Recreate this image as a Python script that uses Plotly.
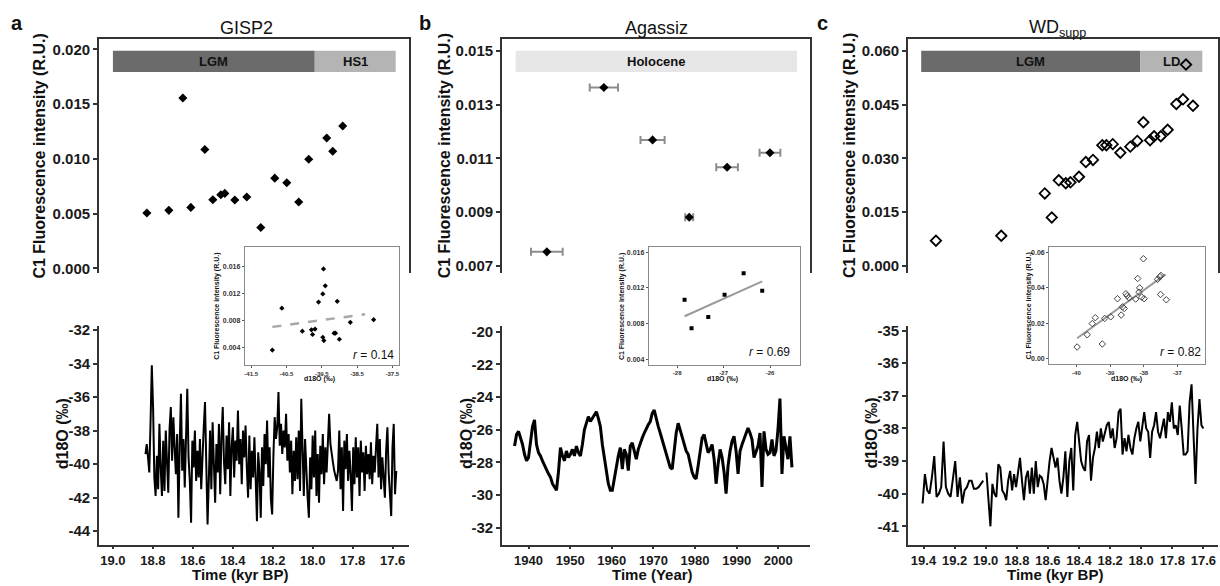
import numpy as np
import plotly.graph_objects as go

W, H = 1220, 586
FONT = "Liberation Sans, Arial, sans-serif"
AX = "#333333"

# ---------------- panel a : GISP2 ----------------
gisp2_time = [18.83, 18.72, 18.65, 18.61, 18.54, 18.50, 18.46, 18.44, 18.39,
              18.33, 18.26, 18.19, 18.13, 18.07, 18.02, 17.93, 17.90, 17.85]
gisp2_c1 = [0.00506, 0.0053, 0.01555, 0.00557, 0.01085, 0.00627, 0.00673, 0.00685, 0.00624,
            0.00652, 0.00373, 0.00824, 0.00782, 0.00606, 0.00997, 0.0119, 0.0107, 0.0130]

gisp2_d18o = [
    -39.4, -38.8, -39.6, -40.5, -37.5, -34.1, -36.6, -40.8, -41.9, -39.5,
    -41.5, -37.6, -40.2, -41.9, -38.6, -41.6, -38.0, -40.5, -41.7, -37.9,
    -36.6, -39.8, -37.2, -39.0, -40.6, -38.2, -43.2, -39.0, -35.8, -40.4,
    -38.5, -41.4, -37.8, -35.5, -39.6, -41.0, -43.5, -38.6, -40.2, -38.0,
    -41.0, -39.2, -40.8, -38.5, -41.5, -39.0, -37.8, -36.3, -40.2, -43.6,
    -41.0, -38.0, -41.5, -37.5, -40.0, -42.3, -38.8, -40.5, -37.6, -41.8,
    -38.4, -36.6, -39.9, -41.2, -38.3, -40.3, -37.5, -41.9, -39.0, -37.8,
    -40.8, -38.6, -39.8, -36.8, -40.0, -38.5, -41.2, -38.0, -39.6, -37.7,
    -40.2, -42.0, -38.3, -41.5, -39.2, -40.8, -38.4, -41.0, -43.4, -39.3,
    -40.5, -43.2, -39.0, -41.3, -38.2, -40.0, -37.4, -40.8, -39.0, -42.1,
    -43.0, -39.5, -37.2, -38.5, -37.8, -35.7, -38.9, -37.6, -39.4, -38.0,
    -39.0, -37.0, -39.8, -38.2, -40.5, -38.6, -41.8, -39.2, -41.0, -38.4,
    -40.9, -38.0, -41.6, -36.1, -39.8, -41.9, -38.5, -40.6, -42.0, -43.2,
    -39.6, -41.5, -38.3, -40.8, -38.0, -41.9, -39.4, -42.3, -38.9, -40.6,
    -38.2, -41.2, -39.0, -40.5, -38.5, -37.0, -38.8, -39.5, -39.9, -40.4,
    -40.8, -41.0, -40.4, -38.0, -41.5, -39.0, -42.8, -38.6, -40.3, -38.2,
    -41.0, -39.2, -40.6, -42.8, -39.0, -41.2, -38.4, -40.8, -39.0, -41.9,
    -38.6, -40.5, -39.3, -41.6, -38.9, -40.6, -39.4, -40.9, -38.7, -41.2,
    -39.5, -40.5, -39.0, -37.6, -40.8, -38.5, -41.5, -39.6, -40.8, -42.0,
    -39.2, -37.8, -40.5, -42.2, -43.1, -39.0, -37.6, -41.8, -40.4]
gisp2_rec_start, gisp2_rec_end = 18.837, 17.582

inset_a_d18o = [-40.90, -40.63, -40.05, -39.79, -39.76, -39.69, -39.59, -39.47, -39.47,
                -39.45, -39.44, -39.40, -39.15, -39.11, -39.06, -39.00, -38.69, -38.03]
inset_a_c1 = [0.0036, 0.0098, 0.0064, 0.0066, 0.0059, 0.0067, 0.0107, 0.0055, 0.0119,
              0.0156, 0.0050, 0.0131, 0.0061, 0.0061, 0.0108, 0.0052, 0.0077, 0.0081]
fit_a_x = [-40.90, -38.27]
fit_a_y = [0.00703, 0.0089]

a_phase_names = ["LGM", "HS1"]
a_phase_start = [19.0, 17.99]
a_phase_end = [17.99, 17.585]

# ---------------- panel b : Agassiz ----------------
agassiz_year = [1944.4, 1958.1, 1969.8, 1978.6, 1987.7, 1998.0]
agassiz_c1 = [0.00752, 0.01364, 0.01169, 0.00881, 0.01067, 0.01121]
agassiz_year_err = [3.8, 3.4, 2.9, 0.95, 2.6, 2.5]

agassiz_d18o = [
    -27.0, -26.3, -26.1, -26.5, -26.9, -27.5, -27.9, -27.7, -26.8, -25.8,
    -25.4, -26.9, -27.4, -27.6, -27.9, -28.2, -28.4, -28.7, -28.9, -29.3,
    -29.5, -29.7, -28.6, -27.1, -27.6, -27.9, -27.3, -27.7, -27.5, -27.2,
    -27.6, -27.0, -27.4, -27.6, -26.9, -26.0, -25.6, -25.2, -25.5, -25.3,
    -25.1, -24.9, -25.3, -25.8, -26.9, -27.8, -28.6, -29.3, -29.7, -29.7,
    -29.0, -28.2, -27.6, -27.1, -28.4, -27.2, -27.5, -28.5, -27.0, -26.8,
    -27.4, -27.8, -27.2, -26.8, -26.5, -26.2, -25.9, -25.7, -25.5, -25.0,
    -24.8, -25.4, -25.8, -26.2, -26.6, -27.0, -27.4, -27.9, -28.3, -28.4,
    -27.4, -26.2, -25.6, -26.0, -26.5, -26.8, -27.3, -27.5, -28.0, -28.6,
    -28.9, -29.0, -28.2, -27.3, -26.5, -26.3, -26.9, -27.4, -27.2, -26.9,
    -27.8, -29.3, -28.1, -27.2, -27.7, -28.6, -29.9, -28.2, -27.3, -26.7,
    -26.4, -27.3, -28.7, -27.3, -26.9, -26.6, -26.2, -25.9, -26.2, -26.6,
    -27.7, -27.3, -27.0, -26.2, -29.5, -26.1, -27.2, -27.5, -27.4, -26.6,
    -27.6, -27.3, -26.0, -24.1, -28.7, -26.4, -27.2, -27.8, -26.4, -28.3]
agassiz_rec_start, agassiz_rec_end = 1936.64, 2003.28

inset_b_d18o = [-27.84, -27.69, -27.33, -26.98, -26.57, -26.17]
inset_b_c1 = [0.01068, 0.00748, 0.00876, 0.01123, 0.01365, 0.01167]
fit_b_x = [-27.84, -26.17]
fit_b_y = [0.00883, 0.01273]

b_phase_names = ["Holocene"]
b_phase_start = [1936.9]
b_phase_end = [2004.5]

# ---------------- panel c : WD supp ----------------
wd_time = [19.32, 18.90, 18.62, 18.575, 18.53, 18.485, 18.455, 18.40, 18.356, 18.31,
           18.25, 18.224, 18.183, 18.134, 18.07, 18.025, 17.986, 17.943, 17.917, 17.874,
           17.83, 17.774, 17.731, 17.712, 17.667]
wd_c1 = [0.00706, 0.00843, 0.02025, 0.01354, 0.0239, 0.0231, 0.02335, 0.0249, 0.0290, 0.0296,
         0.0337, 0.0337, 0.0340, 0.0316, 0.0333, 0.0349, 0.0401, 0.0351, 0.0362, 0.0362,
         0.0380, 0.0452, 0.0465, 0.0562, 0.0447]

wd_d18o_early = [
    -40.3, -39.4, -39.9, -40.0, -39.5, -38.85, -40.1, -40.0, -39.8, -38.4,
    -39.8, -40.0, -40.1, -39.6, -39.0, -40.1, -39.5, -40.3, -39.9, -39.8,
    -39.6, -39.6, -39.85, -39.85, -39.8, -39.7, -39.6]
wd_early_start, wd_early_end = 19.406, 19.016
wd_d18o_late = [
    -39.35, -40.3, -41.0, -39.7, -40.0, -40.1, -39.1, -39.2, -39.9, -40.0,
    -40.2, -39.6, -39.3, -39.9, -39.4, -39.8, -39.3, -38.9, -39.6, -40.2,
    -39.5, -39.3, -40.0, -39.2, -40.0, -39.0, -39.8, -39.45, -39.5, -39.7,
    -40.2, -39.5, -39.0, -38.6, -38.9, -39.2, -38.9, -39.6, -40.0, -39.5,
    -38.7, -40.1, -39.0, -38.6, -39.9, -38.2, -37.8, -38.4, -39.0, -39.2,
    -39.3, -38.4, -38.2, -39.6, -38.9, -38.6, -38.1, -38.6, -38.0, -38.4,
    -38.1, -37.9, -37.8, -38.3, -38.0, -38.6, -38.3, -37.5, -37.4, -38.8,
    -38.3, -38.7, -38.2, -38.6, -38.8, -38.3, -38.0, -37.8, -38.4, -38.0,
    -37.5, -38.0, -38.1, -38.9, -38.1, -37.9, -37.5, -38.1, -38.3, -38.0,
    -37.7, -38.3, -37.5, -37.8, -37.2, -38.0, -37.9, -38.2, -37.3, -38.0,
    -38.8, -38.8, -38.7, -37.2, -36.65, -38.2, -39.7, -38.0, -37.1, -37.9,
    -38.0]
wd_late_start, wd_late_end = 18.995, 17.60

inset_c_d18o = [-39.98, -39.68, -39.53, -39.44, -39.23, -39.16, -38.98, -38.78, -38.67,
                -38.63, -38.58, -38.53, -38.49, -38.44, -38.24, -38.18, -38.14, -38.12,
                -38.06, -38.01, -37.99, -37.59, -37.52, -37.49, -37.50, -37.33]
inset_c_c1 = [0.0066, 0.0135, 0.0198, 0.0231, 0.0083, 0.0227, 0.0236, 0.0338, 0.0246,
              0.0292, 0.0283, 0.0366, 0.0355, 0.0343, 0.0336, 0.0452, 0.0375, 0.0399,
              0.0347, 0.0563, 0.0338, 0.0447, 0.0462, 0.0469, 0.0362, 0.0332]
fit_c_x = [-39.98, -37.35]
fit_c_y = [0.0115, 0.0475]

c_phase_names = ["LGM", "LD"]
c_phase_start = [19.415, 18.007]
c_phase_end = [18.007, 17.607]

phase_colors = {"LGM": "#6b6b6b", "HS1": "#b4b4b4", "LD": "#b4b4b4", "Holocene": "#e6e6e6"}


def fx(px):
    return px / W


def fy(py):
    return 1 - py / H


def main_y(top, bottom, rng, vals, fmt):
    return dict(domain=[fy(bottom), fy(top)], range=rng, tickvals=vals,
                ticktext=[fmt.format(v) for v in vals], showline=True, linecolor=AX,
                linewidth=1.5, ticks="outside", ticklen=4, tickwidth=1.5, tickcolor=AX,
                tickfont=dict(size=15, color="#1a1a1a", weight="bold"),
                showgrid=False, zeroline=False)


def inset_ax(dom, rng, vals, fmt, size):
    return dict(domain=dom, range=rng, tickvals=vals, ticktext=[fmt.format(v) for v in vals],
                showline=True, mirror=True, linecolor="#8a8a8a", linewidth=1,
                ticks="outside", ticklen=2, tickwidth=1, tickcolor="#555",
                tickfont=dict(size=size, color="#333", weight="bold"),
                showgrid=False, zeroline=False)


fig = go.Figure()

# main panels
fig.add_trace(go.Scatter(x=gisp2_time, y=gisp2_c1, mode="markers", xaxis="x", yaxis="y",
                         marker=dict(symbol="diamond", size=7, color="black")))
fig.add_trace(go.Scatter(x=np.linspace(gisp2_rec_start, gisp2_rec_end, len(gisp2_d18o)),
                         y=gisp2_d18o, mode="lines", xaxis="x2", yaxis="y2",
                         line=dict(color="black", width=2)))
fig.add_trace(go.Scatter(x=agassiz_year, y=agassiz_c1, mode="markers", xaxis="x3", yaxis="y3",
                         marker=dict(symbol="diamond", size=7, color="black"),
                         error_x=dict(type="data", array=agassiz_year_err, color="#8c8c8c",
                                      thickness=2, width=4)))
fig.add_trace(go.Scatter(x=np.linspace(agassiz_rec_start, agassiz_rec_end, len(agassiz_d18o)),
                         y=agassiz_d18o, mode="lines", xaxis="x4", yaxis="y4",
                         line=dict(color="black", width=3)))
fig.add_trace(go.Scatter(x=wd_time, y=wd_c1, mode="markers", xaxis="x5", yaxis="y5",
                         marker=dict(symbol="diamond-open", size=8, color="black",
                                     line=dict(width=1.8, color="black"))))
wd_t = list(np.linspace(wd_early_start, wd_early_end, len(wd_d18o_early))) + [None] + \
    list(np.linspace(wd_late_start, wd_late_end, len(wd_d18o_late)))
fig.add_trace(go.Scatter(x=wd_t, y=wd_d18o_early + [None] + wd_d18o_late, mode="lines",
                         xaxis="x6", yaxis="y6", connectgaps=False,
                         line=dict(color="black", width=2)))

# insets
fig.add_trace(go.Scatter(x=inset_a_d18o, y=inset_a_c1, mode="markers", xaxis="x7", yaxis="y7",
                         marker=dict(symbol="diamond", size=4, color="black")))
fig.add_trace(go.Scatter(x=fit_a_x, y=fit_a_y, mode="lines", xaxis="x7", yaxis="y7",
                         line=dict(color="#a8a8a8", width=2.5, dash="dash")))
fig.add_trace(go.Scatter(x=fit_b_x, y=fit_b_y, mode="lines", xaxis="x8", yaxis="y8",
                         line=dict(color="#9a9a9a", width=2)))
fig.add_trace(go.Scatter(x=inset_b_d18o, y=inset_b_c1, mode="markers", xaxis="x8", yaxis="y8",
                         marker=dict(symbol="square", size=4, color="black")))
fig.add_trace(go.Scatter(x=fit_c_x, y=fit_c_y, mode="lines", xaxis="x9", yaxis="y9",
                         line=dict(color="#9a9a9a", width=2)))
fig.add_trace(go.Scatter(x=inset_c_d18o, y=inset_c_c1, mode="markers", xaxis="x9", yaxis="y9",
                         marker=dict(symbol="diamond-open", size=5, color="#444",
                                     line=dict(width=1, color="#444"))))

TOP, BOT = (35, 272), (326, 548)
cols = [(99, 409), (502.3, 811), (908.7, 1218.7)]
xr = [[19.07, 17.52], [1933.6, 2007.7], [19.50, 17.508]]
xticks = [[19.0, 18.8, 18.6, 18.4, 18.2, 18.0, 17.8, 17.6], [1940, 1950, 1960, 1970, 1980, 1990, 2000],
          [19.4, 19.2, 19.0, 18.8, 18.6, 18.4, 18.2, 18.0, 17.8, 17.6]]
xfmt = ["{:.1f}", "{:d}", "{:.1f}"]
top_y = [([-0.0004, 0.0209], [0.0, 0.005, 0.010, 0.015, 0.020]),
         ([0.00674, 0.01543], [0.007, 0.009, 0.011, 0.013, 0.015]),
         ([-0.0019, 0.0632], [0.0, 0.015, 0.030, 0.045, 0.060])]
bot_y = [([-44.8, -31.76], [-44, -42, -40, -38, -36, -34, -32], "{:d}"),
         ([-33.02, -19.66], [-32, -30, -28, -26, -24, -22, -20], "{:d}"),
         ([-41.56, -34.86], [-41, -40, -39, -38, -37, -36, -35], "{:d}")]

layout = dict(width=W, height=H, margin=dict(l=0, r=0, t=0, b=0), showlegend=False,
              paper_bgcolor="white", plot_bgcolor="white", font=dict(family=FONT, color="#1a1a1a"))
for i in range(3):
    nt, nb = 2 * i + 1, 2 * i + 2
    sx_t = "xaxis" if nt == 1 else f"xaxis{nt}"
    sy_t = "yaxis" if nt == 1 else f"yaxis{nt}"
    yid_t = "y" if nt == 1 else f"y{nt}"
    xid_t = "x" if nt == 1 else f"x{nt}"
    dom = [fx(cols[i][0]), fx(cols[i][1])]
    layout[sx_t] = dict(domain=dom, range=xr[i], anchor=yid_t, side="top", showline=True,
                        linecolor=AX, linewidth=1.5, ticks="", showticklabels=False,
                        showgrid=False, zeroline=False)
    ya = main_y(TOP[0], TOP[1], top_y[i][0], top_y[i][1], "{:.3f}")
    ya.update(anchor=xid_t, mirror=True)
    layout[sy_t] = ya
    layout[f"xaxis{nb}"] = dict(domain=dom, range=xr[i], anchor=f"y{nb}", showline=True,
                                linecolor=AX, linewidth=1.5, ticks="outside", ticklen=3,
                                tickwidth=1.5, tickcolor=AX, tickvals=xticks[i],
                                ticktext=[xfmt[i].format(v) for v in xticks[i]],
                                tickfont=dict(size=13, color="#1a1a1a", weight="bold"),
                                showgrid=False, zeroline=False)
    yb = main_y(BOT[0], BOT[1], bot_y[i][0], bot_y[i][1], bot_y[i][2])
    yb.update(anchor=f"x{nb}")
    layout[f"yaxis{nb}"] = yb

# inset axes
ins_y = [fy(366), fy(246)]
layout["xaxis7"] = inset_ax([fx(245), fx(399)], [-41.68, -37.32], [-41.5, -40.5, -39.5, -38.5, -37.5], "{:.1f}", 6)
layout["yaxis7"] = inset_ax(ins_y, [0.00134, 0.0188], [0.004, 0.008, 0.012, 0.016], "{:.3f}", 7)
layout["xaxis8"] = inset_ax([fx(649.3), fx(801)], [-28.61, -25.35], [-28, -27, -26], "{:d}", 6)
layout["yaxis8"] = inset_ax([fy(365.7), fy(246)], [0.00337, 0.01655], [0.004, 0.008, 0.012, 0.016], "{:.3f}", 7)
layout["xaxis9"] = inset_ax([fx(1050), fx(1206)], [-40.81, -36.18], [-40, -39, -38, -37], "{:d}", 6)
layout["yaxis9"] = inset_ax([fy(365), fy(246)], [-0.0032, 0.0628], [0.0, 0.02, 0.04, 0.06], "{:.2f}", 7)
for k in (7, 8, 9):
    layout[f"xaxis{k}"]["anchor"] = f"y{k}"
    layout[f"yaxis{k}"]["anchor"] = f"x{k}"

fig.update_layout(**layout)

# period bars (x in data units, y in page position)
shapes, ann = [], []
for xref, names, starts, ends in [("x", a_phase_names, a_phase_start, a_phase_end),
                                  ("x3", b_phase_names, b_phase_start, b_phase_end),
                                  ("x5", c_phase_names, c_phase_start, c_phase_end)]:
    for n, s, e in zip(names, starts, ends):
        shapes.append(dict(type="rect", xref=xref, yref="paper", x0=s, x1=e, y0=fy(68), y1=fy(46.5),
                           fillcolor=phase_colors[n], line=dict(width=0), layer="below"))
        ann.append(dict(xref=xref, yref="paper", x=(s + e) / 2, y=fy(57.5), text=n, showarrow=False,
                        xanchor="center", yanchor="middle",
                        font=dict(size=13, color="#111", weight="bold")))
fig.update_layout(shapes=shapes)


def note(px, py, text, size, bold=False, angle=0):
    ann.append(dict(xref="paper", yref="paper", x=fx(px), y=fy(py), text=text, showarrow=False,
                    textangle=angle, xanchor="center", yanchor="middle",
                    font=dict(size=size, color="#111", weight="bold" if bold else "normal")))


for px, lab in [(17, "a"), (425, "b"), (823, "c")]:
    note(px, 18, lab, 20, bold=True)
note(247, 23, "GISP2", 18)
note(656.7, 23, "Agassiz", 18)
note(1058, 24, "WD<sub>supp</sub>", 18)
for px in (40, 445, 850):
    note(px, 153, "C1 Fluorescence intensity (R.U.)", 16, bold=True, angle=-90)
for px in (62, 467, 872):
    note(px, 435, "d18O (‰)", 16, bold=True, angle=-90)
note(240, 578, "Time (kyr BP)", 15, bold=True)
note(653, 578, "Time (Year)", 15, bold=True)
note(1056, 578, "Time (kyr BP)", 15, bold=True)
# inset labels
for px in (217.7, 623.3, 1030):
    note(px, 306, "C1 Fluorescence intensity (R.U.)", 7, bold=True, angle=-90)
for px in (320, 723, 1127):
    note(px, 380, "d18O (‰)", 7, bold=True)
note(374, 355, "<i>r</i> = 0.14", 12)
note(770, 352, "<i>r</i> = 0.69", 12)
note(1181, 352, "<i>r</i> = 0.82", 12)

fig.update_layout(annotations=ann)
fig.write_html("out.html", config={"displayModeBar": False},
               post_script="document.body.style.margin='0';")
